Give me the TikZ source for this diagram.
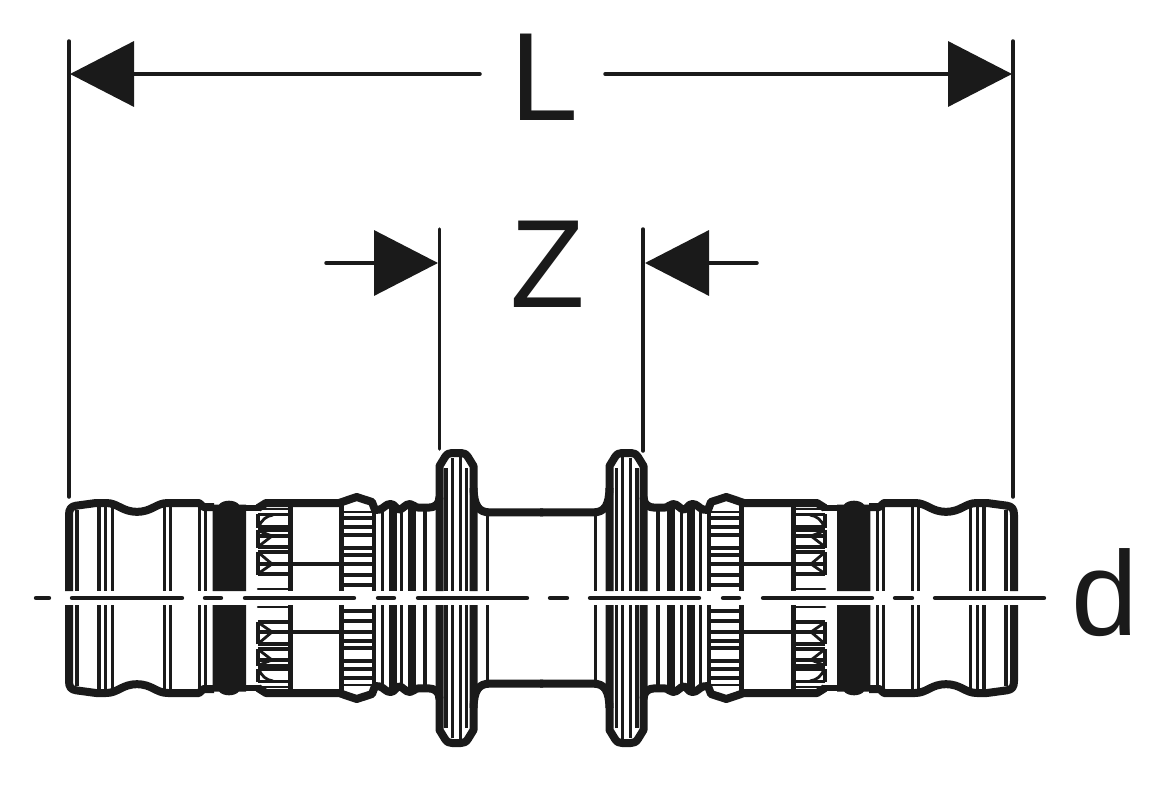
\documentclass[tikz,border=0pt]{standalone}
\usepackage{fontspec}
\setmainfont{Liberation Sans}
\usetikzlibrary{arrows.meta}
\definecolor{ink}{HTML}{1A1A1A}
\tikzset{
  outlinew/.style={draw=ink,line width=8pt,line join=round,line cap=butt},
  thin3/.style={draw=ink,line width=3.2pt},
  thick8/.style={draw=ink,line width=8pt},
  thick5/.style={draw=ink,line width=5pt},
  extline/.style={draw=ink,line width=3.5pt,line cap=round},
  dimline/.style={draw=ink,line width=3.5pt,line cap=round,-{Triangle[length=64pt,width=65pt,color=ink]}},
  centre/.style={draw=ink,line width=4.4pt,line cap=round},
  dimlabel/.style={text=ink,inner sep=0pt,outer sep=0pt,anchor=base west,font=\fontsize{122}{122}\selectfont},
  tallabel/.style={dimlabel,yscale=1.03,transform shape},
  smalllabel/.style={dimlabel,font=\fontsize{120}{120}\selectfont},
}
\newcommand{\quarterbody}{%
  \foreach \vx/\vy in {77/510,99/503,105.7/503,112.3/505,164.3/505,170.7/503,199.3/503,205.7/508,
      382.3/510,401.7/510,425/508,446/468,452.3/458,460.8/457,466.3/468,487.5/513}
    {\draw[thin3] (\vx,\vy) -- (\vx,591);}
  \draw[thick8] (392.5,508) -- (392.5,591);
  \draw[thick8] (412,507) -- (412,591);
  \draw[thick5] (290,503) -- (290,591);
  \draw[thick5] (341.5,503) -- (341.5,591);
  \draw[thin3] (374,505) -- (374,591);
  % black sealing ring
  \fill[ink] (212.7,591) -- (212.7,504.5) -- (219,504.5) .. controls (221,502) and (225,500.7) .. (229,500.7)
     .. controls (233,500.7) and (237,502) .. (239,504.5) -- (246,504.5) -- (246,591) -- cycle;
  \draw[draw=ink,line width=6.6pt] (246,508) -- (260,508);
  % first knurled band
  \foreach \ky/\kw in {509/1.5,514.5/3.2,527/3.7,530/3.2,536/3.7,547/3.2,552/3.2,564/3.2,574/3.2}
    {\draw[draw=ink,line width=\kw pt] (258,\ky) -- (289,\ky);}
  \draw[thin3] (258,514) -- (258,527.5);
  \draw[thin3] (258,530) -- (258,547.5);
  \draw[thin3] (258,552) -- (258,574.5);
  \draw[draw=ink,line width=2.8pt] (259,526) .. controls (262,520) and (266,516) .. (273,515);
  \draw[draw=ink,line width=2.8pt] (259,531) -- (272,536) -- (259,546);
  \draw[draw=ink,line width=2.8pt] (259,553) -- (272,564) -- (259,573);
  \draw[draw=ink,line width=2.5pt,line cap=round] (258,589) -- (288,589);
  \draw[thin3] (290,564) -- (341,564);
  % second knurled band
  \foreach \ky/\kw in {511.5/2,518/3.2,527/3.2,535/3.7,548/3.2,555/3.2,564/3.2,575/3.2,585/3.2}
    {\draw[draw=ink,line width=\kw pt] (343,\ky) -- (373,\ky);}
  % outline
  \draw[outlinew] (69,591) -- (69,515) .. controls (69,509) and (71,506.5) .. (76,505.7)
     -- (96,503) -- (106,503) .. controls (118,503) and (122,511.8) .. (137,511.8)
     .. controls (152,511.8) and (156,503) .. (168,503) -- (199,503) -- (203.5,507) -- (214,507);
  \draw[outlinew] (258,508) -- (266,503) -- (339,503) -- (356.7,497) -- (372,502) -- (375,510)
     -- (380,509.5) .. controls (384,508) and (386,504) .. (390.5,504)
     .. controls (395,504) and (396,509.5) .. (399,509.5)
     .. controls (403,509.5) and (405,504) .. (410,504)
     .. controls (414,504) and (414,507.7) .. (419,507.7) -- (428,507.7)
     .. controls (435,507.7) and (439.5,504) .. (439.5,497);
  \draw[outlinew] (439.5,591) -- (439.5,466) -- (445,457) .. controls (447,454) and (449,453) .. (452,453)
     -- (461,453) .. controls (464,453) and (466,454) .. (468,457) -- (473.5,466) -- (473.5,591);
  \draw[outlinew] (473.5,488) .. controls (474,505) and (478,512.4) .. (490,512.4) -- (543,512.4);
}
\newcommand{\halfbody}{%
  \begin{scope}\quarterbody\end{scope}
  \begin{scope}[cm={1,0,0,-1,(0pt,-1196pt)}]\quarterbody\end{scope}
}
\begin{document}
\begin{tikzpicture}[x=1pt,y=-1pt]
  \useasboundingbox[fill=white] (0,0) rectangle (1166,784);
  \begin{scope}\halfbody\end{scope}
  \begin{scope}[cm={-1,0,0,1,(1083pt,0pt)}]\halfbody\end{scope}
  \foreach \ca/\cb in {36/49,72/182,205/221,245/354,378/394,418/527,550/567,590/699,723/739,763/872,895/912,935/1044}
    {\draw[centre] (\ca,598) -- (\cb,598);}
  \coordinate (extLat) at (69,41);   \coordinate (extLab) at (69,497);
  \coordinate (extRat) at (1013,41); \coordinate (extRab) at (1013,497);
  \coordinate (extZlt) at (439.5,229); \coordinate (extZlb) at (439.5,449);
  \coordinate (extZrt) at (643,229);   \coordinate (extZrb) at (643,451);
  \coordinate (Ll) at (480,74);  \coordinate (Ltl) at (70,74);
  \coordinate (Lr) at (605,74);  \coordinate (Ltr) at (1012,74);
  \coordinate (Zl) at (326,263); \coordinate (Ztl) at (438,263);
  \coordinate (Zr) at (757,263); \coordinate (Ztr) at (645,263);
  \draw[extline] (extLat) -- (extLab);
  \draw[extline] (extRat) -- (extRab);
  \draw[extline] (extZlt) -- (extZlb);
  \draw[extline] (extZrt) -- (extZrb);
  \draw[dimline] (Ll) -- (Ltl);
  \draw[dimline] (Lr) -- (Ltr);
  \draw[dimline] (Zl) -- (Ztl);
  \draw[dimline] (Zr) -- (Ztr);
  \node[tallabel] (nL) at (510,120) {L};
  \node[tallabel] (nZ) at (510.5,307) {Z};
  \node[smalllabel] (nd) at (1071,635) {d};
\end{tikzpicture}
\end{document}
